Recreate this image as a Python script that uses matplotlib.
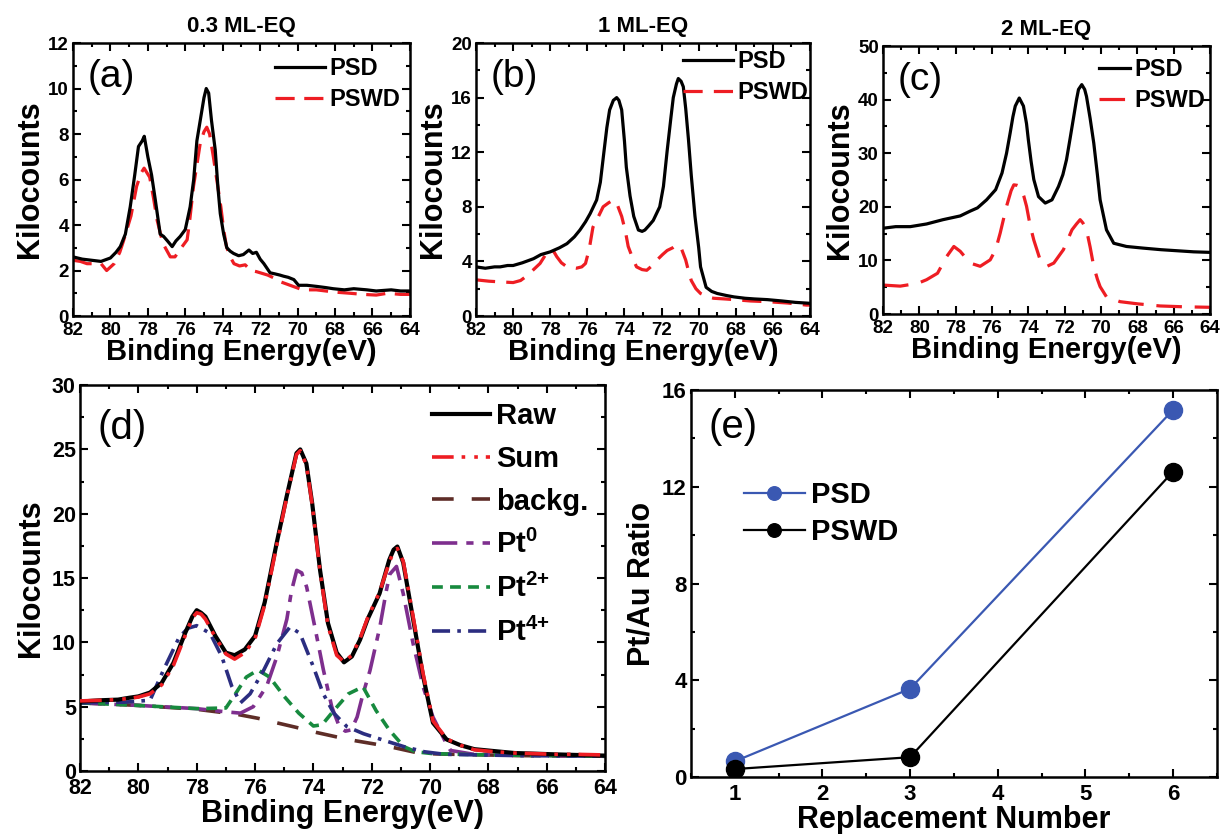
import matplotlib
matplotlib.use("Agg")
import matplotlib.pyplot as plt
from matplotlib.ticker import MultipleLocator

# ---- (a) 0.3 ML-EQ ----
a_psd_x = [82.0, 81.5, 81.0, 80.5, 80.0, 79.7, 79.47, 79.2, 78.94, 78.7, 78.5, 78.3, 78.19, 78.0, 77.8, 77.6,
           77.34, 77.16, 76.95, 76.7, 76.5, 76.27, 76.0, 75.74, 75.55, 75.38, 75.2, 75.0, 74.88, 74.75, 74.6,
           74.4, 74.25, 74.13, 73.95, 73.78, 73.6, 73.42, 73.15, 72.9, 72.75, 72.6, 72.4, 72.2, 72.0, 71.8,
           71.47, 71.2, 70.95, 70.75, 70.5, 70.2, 69.95, 69.5, 68.97, 68.5, 68.1, 67.5, 67.0, 66.3, 65.8, 65.0,
           64.5, 64.0]
a_psd_y = [2.6, 2.5, 2.45, 2.4, 2.55, 2.8, 3.05, 3.6, 4.8, 6.2, 7.45, 7.7, 7.9, 7.0, 6.2, 5.1,
           3.6, 3.5, 3.3, 3.05, 3.3, 3.5, 3.8, 4.8, 6.0, 7.7, 8.6, 9.6, 10.0, 9.8, 8.6,
           7.3, 5.6, 4.5, 3.6, 3.0, 2.85, 2.75, 2.65, 2.7, 2.8, 2.9, 2.75, 2.8, 2.5, 2.3,
           1.9, 1.85, 1.8, 1.75, 1.7, 1.6, 1.35, 1.35, 1.3, 1.25, 1.2, 1.15, 1.2, 1.15, 1.1, 1.15,
           1.1, 1.1]
a_pswd_x = [82.0, 81.6, 81.25, 80.8, 80.5, 80.2, 79.8, 79.5, 79.3, 78.9, 78.6, 78.35, 78.2, 77.9, 77.7, 77.5,
            77.2, 76.8, 76.55, 76.3, 75.9, 75.75, 75.56, 75.35, 75.2, 75.0, 74.85, 74.7, 74.5, 74.3, 74.1,
            73.95, 73.8, 73.6, 73.4, 73.1, 72.8, 72.5, 72.2, 71.6, 71.2, 70.9, 70.4, 69.9, 69.5, 69.0, 68.0,
            67.2, 66.5, 65.8, 65.2, 64.5, 64.0]
a_pswd_y = [2.45, 2.4, 2.3, 2.3, 2.3, 2.0, 2.3, 2.8, 3.3, 4.4, 5.7, 6.3, 6.5, 6.1, 5.2, 4.2,
            3.2, 2.6, 2.6, 2.9, 3.35, 4.3, 5.7, 6.8, 7.6, 8.1, 8.3, 8.0, 7.0, 5.9, 4.8,
            3.8, 3.05, 2.6, 2.3, 2.2, 2.25, 2.0, 1.95, 1.8, 1.65, 1.5, 1.35, 1.2, 1.15, 1.15, 1.05,
            1.0, 0.95, 0.92, 1.0, 0.95, 0.95]

# ---- (b) 1 ML-EQ ----
b_psd_x = [82.0, 81.5, 81.0, 80.7, 80.3, 80.0, 79.5, 78.9, 78.5, 78.0, 77.5, 77.1, 76.7, 76.4, 76.1, 75.85,
           75.5, 75.3, 75.1, 74.95, 74.8, 74.6, 74.42, 74.3, 74.15, 74.0, 73.9, 73.7, 73.5, 73.25, 73.05,
           72.9, 72.7, 72.45, 72.1, 71.9, 71.7, 71.5, 71.37, 71.2, 71.1, 70.95, 70.83, 70.7, 70.55, 70.4,
           70.2, 70.0, 69.9, 69.6, 69.3, 69.0, 68.5, 68.1, 67.5, 67.0, 66.3, 65.5, 64.8, 64.0]
b_psd_y = [3.6, 3.5, 3.6, 3.6, 3.7, 3.7, 3.9, 4.2, 4.5, 4.7, 5.0, 5.3, 5.8, 6.3, 6.9, 7.5,
           8.5, 9.8, 12.1, 13.8, 15.1, 15.8, 16.0, 15.8, 15.1, 12.8, 10.9, 8.8, 7.3, 6.3, 6.2,
           6.3, 6.6, 7.0, 8.0, 9.5, 12.1, 14.5, 16.0, 17.0, 17.4, 17.2, 16.8, 15.2, 12.9, 10.3,
           7.3, 5.0, 3.6, 2.1, 1.8, 1.65, 1.5, 1.4, 1.3, 1.25, 1.2, 1.1, 1.0, 0.93]
b_pswd_x = [82.0, 81.3, 80.7, 80.0, 79.6, 79.3, 78.9, 78.55, 78.2, 78.0, 77.8, 77.65, 77.4, 77.1, 76.6,
            76.3, 76.1, 75.9, 75.7, 75.4, 75.15, 74.85, 74.6, 74.4, 74.15, 73.95, 73.8, 73.55, 73.35,
            73.05, 72.8, 72.5, 72.25, 71.95, 71.7, 71.4, 71.2, 70.95, 70.7, 70.55, 70.4, 70.15, 69.9,
            69.5, 69.2, 68.6, 68.1, 67.2, 66.3, 65.2, 64.2, 64.0]
b_pswd_y = [2.65, 2.55, 2.5, 2.45, 2.6, 2.9, 3.4, 3.85, 4.6, 4.85, 4.7, 4.35, 3.9, 3.6, 3.5,
            3.6, 3.85, 4.9, 6.5, 7.3, 8.0, 8.3, 8.5, 8.2, 7.3, 6.2, 5.1, 4.2, 3.6,
            3.4, 3.35, 3.7, 4.1, 4.5, 4.8, 5.0, 5.2, 5.0, 4.1, 3.3, 2.6, 2.0, 1.65,
            1.4, 1.3, 1.25, 1.2, 1.1, 1.05, 0.95, 0.8, 0.8]

# ---- (c) 2 ML-EQ ----
c_psd_x = [82.0, 81.3, 80.5, 79.6, 78.7, 77.75, 77.2, 76.8, 76.3, 75.8, 75.45, 75.2, 75.0, 74.85, 74.72,
           74.5, 74.27, 74.1, 74.0, 73.85, 73.7, 73.44, 73.07, 72.7, 72.34, 72.1, 71.9, 71.7, 71.5, 71.35,
           71.24, 71.06, 70.9, 70.8, 70.6, 70.4, 70.2, 70.05, 69.7, 69.3, 68.6, 67.7, 66.7, 65.8, 64.9, 64.0]
c_psd_y = [16.0, 16.3, 16.3, 16.8, 17.6, 18.3, 19.2, 19.8, 21.3, 23.2, 26.3, 30.0, 33.8, 36.8, 38.8,
           40.3, 38.8, 35.5, 32.5, 28.5, 25.1, 21.9, 20.7, 21.3, 23.8, 26.0, 28.8, 32.8, 36.9, 40.0,
           41.9, 42.8, 41.9, 40.6, 36.5, 31.9, 26.0, 21.3, 15.7, 13.2, 12.6, 12.3, 12.0, 11.8, 11.6, 11.5]
c_pswd_x = [82.0, 81.05, 80.5, 80.1, 79.6, 79.0, 78.5, 78.1, 77.75, 77.2, 76.65, 76.1, 75.8, 75.55, 75.2,
            74.95, 74.8, 74.6, 74.45, 74.25, 74.1, 73.9, 73.7, 73.35, 73.0, 72.6, 72.07, 71.6, 71.35, 71.15,
            71.0, 70.8, 70.6, 70.4, 70.2, 70.05, 69.7, 68.95, 68.0, 66.75, 65.5, 64.0]
c_pswd_y = [5.4, 5.2, 5.5, 5.7, 6.4, 7.6, 10.7, 12.6, 11.7, 9.5, 8.9, 10.1, 12.0, 15.1, 20.1,
            23.0, 24.1, 24.0, 23.8, 22.0, 20.1, 16.5, 13.8, 10.1, 8.85, 9.5, 12.0, 15.7, 16.8, 17.6,
            17.0, 15.7, 12.5, 8.85, 6.5, 5.1, 3.2, 2.3, 1.9, 1.5, 1.35, 1.25]

# ---- (d) peak fit ----
d_x = [82.0, 81.3, 80.7, 80.3, 80.0, 79.6, 79.2, 78.8, 78.4, 78.15, 78.0, 77.85, 77.7, 77.36, 77.0, 76.7,
       76.35, 76.0, 75.67, 75.26, 74.92, 74.7, 74.58, 74.45, 74.24, 74.04, 73.77, 73.5, 73.2, 72.95, 72.68,
       72.4, 72.14, 71.73, 71.4, 71.25, 71.12, 70.92, 70.75, 70.58, 70.24, 69.9, 69.43, 68.95, 68.48, 67.8,
       67.1, 66.4, 65.76, 65.0, 64.0]
d_raw = [5.4, 5.5, 5.55, 5.7, 5.8, 6.1, 6.85, 8.4, 10.7, 12.0, 12.5, 12.3, 12.0, 10.5, 9.2, 9.0,
         9.45, 10.5, 13.1, 17.7, 21.3, 23.5, 24.7, 25.0, 23.9, 20.8, 15.6, 11.5, 9.2, 8.45, 8.9,
         10.2, 11.8, 13.8, 16.4, 17.2, 17.45, 16.2, 14.0, 11.8, 7.4, 3.75, 2.45, 2.0, 1.7, 1.55,
         1.4, 1.35, 1.3, 1.25, 1.2]
d_sum = [5.45, 5.5, 5.55, 5.65, 5.75, 6.0, 6.7, 8.2, 10.5, 11.9, 12.3, 12.2, 11.8, 10.4, 9.1, 8.7,
         9.2, 10.3, 12.9, 17.5, 21.2, 23.4, 24.6, 24.9, 23.8, 20.7, 15.5, 11.3, 9.0, 8.5, 9.0,
         10.3, 11.9, 13.9, 16.2, 17.1, 17.3, 16.3, 14.2, 12.0, 7.6, 3.9, 2.5, 2.0, 1.65, 1.5,
         1.4, 1.35, 1.3, 1.3, 1.25]
bg_x = [82.0, 81.0, 80.0, 79.0, 78.0, 77.3, 76.6, 75.9, 75.26, 74.6, 73.9, 73.2, 72.55, 71.9, 71.2, 70.8,
        70.4, 69.8, 69.15, 67.0, 64.0]
bg_y = [5.3, 5.2, 5.1, 4.95, 4.8, 4.6, 4.4, 4.1, 3.75, 3.4, 3.0, 2.65, 2.35, 2.1, 1.8, 1.6,
        1.4, 1.33, 1.3, 1.2, 1.15]
pt0_x = [82.0, 80.0, 78.0, 77.0, 76.5, 76.06, 75.6, 75.25, 74.91, 74.75, 74.57, 74.4, 74.23, 73.95, 73.66,
         73.37, 73.1, 72.9, 72.7, 72.5, 72.3, 72.06, 71.72, 71.5, 71.38, 71.15, 70.92, 70.58, 70.23, 69.9,
         69.5, 69.3, 68.5, 66.0, 64.0]
pt0_y = [5.3, 5.1, 4.85, 4.6, 4.5, 5.0, 6.6, 8.9, 11.8, 14.0, 15.6, 15.4, 14.3, 11.2, 7.9,
         5.0, 3.4, 3.1, 3.2, 4.2, 5.98, 7.8, 11.2, 14.0, 15.3, 15.9, 13.8, 9.9, 6.5, 4.2,
         2.4, 1.6, 1.3, 1.2, 1.15]
pt2_x = [82.0, 80.0, 78.0, 77.0, 76.7, 76.3, 75.9, 75.5, 75.0, 74.5, 74.0, 73.7, 73.3, 72.8, 72.3, 71.85,
         71.4, 70.9, 70.5, 69.9, 68.0, 64.0]
pt2_y = [5.3, 5.1, 4.85, 4.9, 5.9, 7.3, 7.85, 7.3, 5.8, 4.5, 3.5, 3.6, 4.7, 6.0, 6.55, 4.7,
         3.2, 1.9, 1.5, 1.35, 1.25, 1.15]
pt4_x = [82.0, 80.5, 79.6, 79.14, 78.6, 78.3, 78.0, 77.54, 77.14, 76.8, 76.5, 76.17, 75.7, 75.25, 74.8,
         74.46, 74.0, 73.66, 73.3, 72.85, 72.28, 71.6, 70.9, 70.2, 69.5, 67.0, 64.0]
pt4_y = [5.3, 5.35, 5.5, 7.85, 10.4, 11.1, 11.3, 10.7, 8.9, 6.6, 5.3, 6.0, 7.85, 9.9, 11.2,
         10.7, 8.1, 6.0, 4.5, 3.45, 2.9, 2.4, 1.9, 1.5, 1.3, 1.2, 1.15]

# ---- (e) Pt/Au ratio ----
replacement = [1, 3, 6]
ratio_psd = [0.65, 3.65, 15.18]
ratio_pswd = [0.33, 0.82, 12.63]

RED = "#EE1D23"
PURPLE = "#7E2F8E"
GREEN = "#178A3E"
NAVY = "#2B2D80"
BROWN = "#5E2D27"
BLUE = "#3A58B2"

plt.rcParams['font.family'] = ['Liberation Sans', 'DejaVu Sans']
plt.rcParams['font.weight'] = 'bold'
plt.rcParams['axes.labelweight'] = 'bold'
plt.rcParams['axes.titleweight'] = 'bold'
plt.rcParams['mathtext.fontset'] = 'custom'
plt.rcParams['mathtext.rm'] = 'Liberation Sans:bold'
plt.rcParams['mathtext.bf'] = 'Liberation Sans:bold'
plt.rcParams['mathtext.it'] = 'Liberation Sans:bold'
plt.rcParams['mathtext.default'] = 'bf'


def style_axes(ax, xmaj, xmin, ymaj, ymin, size, xpad=3):
    ax.xaxis.set_major_locator(MultipleLocator(xmaj))
    ax.xaxis.set_minor_locator(MultipleLocator(xmin))
    ax.yaxis.set_major_locator(MultipleLocator(ymaj))
    ax.yaxis.set_minor_locator(MultipleLocator(ymin))
    ax.tick_params(which='both', direction='in', top=True, right=True, width=1.5, labelsize=size)
    ax.tick_params(axis='x', pad=xpad)
    ax.tick_params(axis='y', pad=3)
    ax.tick_params(which='major', length=6)
    ax.tick_params(which='minor', length=3)
    for s in ax.spines.values():
        s.set_linewidth(1.8)


def spectrum_panel(fig, rect, x1, y1, x2, y2, ymax, ymaj, title, letter, dash, leg_anchor, hl):
    ax = fig.add_axes(rect)
    ax.plot(x1, y1, color='black', lw=2.3, label='PSD', zorder=3)
    ax.plot(x2, y2, color=RED, lw=2.3, ls=(0, dash), label='PSWD', zorder=2)
    ax.set_xlim(82, 64)
    ax.set_ylim(0, ymax)
    style_axes(ax, 2, 1, ymaj, ymaj / 2, 13.5, xpad=4.5)
    ax.set_xlabel('Binding Energy(eV)', fontsize=21, labelpad=-1)
    ax.set_ylabel('Kilocounts', fontsize=22, labelpad=2)
    ax.set_title(title, fontsize=16, pad=8)
    ax.text(0.045, 0.875, letter, transform=ax.transAxes, fontsize=28, fontweight='normal',
            ha='left', va='center')
    ax.legend(loc='upper left', bbox_to_anchor=leg_anchor, frameon=False, fontsize=17,
              handlelength=hl, handletextpad=0.2, borderpad=0, borderaxespad=0, labelspacing=0.35)
    return ax


def main():
    fig = plt.figure(figsize=(12.24, 8.34), dpi=100)

    spectrum_panel(fig, [0.0596, 0.6211, 0.2753, 0.3273], a_psd_x, a_psd_y, a_pswd_x, a_pswd_y,
                   12, 2, '0.3 ML-EQ', '(a)', (6, 3), (0.6, 0.948), 2.1)
    spectrum_panel(fig, [0.3889, 0.6211, 0.2729, 0.3273], b_psd_x, b_psd_y, b_pswd_x, b_pswd_y,
                   20, 4, '1 ML-EQ', '(b)', (6, 3.5), (0.62, 0.975), 2.1)
    spectrum_panel(fig, [0.7214, 0.6235, 0.2672, 0.3213], c_psd_x, c_psd_y, c_pswd_x, c_pswd_y,
                   50, 10, '2 ML-EQ', '(c)', (8, 4), (0.66, 0.955), 1.3)

    # (d)
    ax = fig.add_axes([0.0654, 0.0755, 0.4289, 0.4628])
    ax.plot(d_x, d_raw, color='black', lw=3.0, label='Raw', zorder=2)
    ax.plot(d_x, d_sum, color=RED, lw=2.6, ls=(0, (6, 2.2, 1, 2.5, 1, 2.2)), label='Sum', zorder=3)
    ax.plot(bg_x, bg_y, color=BROWN, lw=2.6, ls=(0, (6, 5)), label='backg.', zorder=1)
    ax.plot(pt0_x, pt0_y, color=PURPLE, lw=2.6, ls=(0, (7, 2.5, 2, 2.5)), label=r'Pt$^{0}$', zorder=1)
    ax.plot(pt2_x, pt2_y, color=GREEN, lw=2.6, ls=(0, (3, 2)), label=r'Pt$^{2{+}}$', zorder=1)
    ax.plot(pt4_x, pt4_y, color=NAVY, lw=2.6, ls=(0, (5, 2, 1, 2)), label=r'Pt$^{4{+}}$', zorder=1)
    ax.set_xlim(82, 64)
    ax.set_ylim(0, 30)
    style_axes(ax, 2, 1, 5, 2.5, 15.5, xpad=5)
    ax.set_xlabel('Binding Energy(eV)', fontsize=22, labelpad=0)
    ax.set_ylabel('Kilocounts', fontsize=22, labelpad=4)
    ax.text(0.034, 0.889, '(d)', transform=ax.transAxes, fontsize=29, fontweight='normal',
            ha='left', va='center')
    ax.legend(loc='upper left', bbox_to_anchor=(0.67, 0.955), frameon=False, fontsize=21,
              handlelength=2.0, handletextpad=0.2, borderpad=0, borderaxespad=0, labelspacing=0.5)

    # (e)
    ax = fig.add_axes([0.5645, 0.0683, 0.4297, 0.4640])
    ax.plot(replacement, ratio_psd, color=BLUE, lw=1.6, marker='o', ms=13, label='PSD')
    ax.plot(replacement, ratio_pswd, color='black', lw=1.6, marker='o', ms=13, label='PSWD')
    ax.set_xlim(0.5, 6.5)
    ax.set_ylim(0, 16)
    style_axes(ax, 1, 0.5, 4, 2, 16, xpad=5)
    ax.set_xlabel('Replacement Number', fontsize=22, labelpad=0)
    ax.set_ylabel('Pt/Au Ratio', fontsize=22, labelpad=4)
    ax.text(0.034, 0.904, '(e)', transform=ax.transAxes, fontsize=29, fontweight='normal',
            ha='left', va='center')
    ax.legend(loc='upper left', bbox_to_anchor=(0.1, 0.765), frameon=False, fontsize=21,
              handlelength=2.1, handletextpad=0.2, borderpad=0, borderaxespad=0, labelspacing=0.3,
              markerscale=0.75)

    fig.savefig('out.png', dpi=100)
    plt.close(fig)


if __name__ == "__main__":
    main()
